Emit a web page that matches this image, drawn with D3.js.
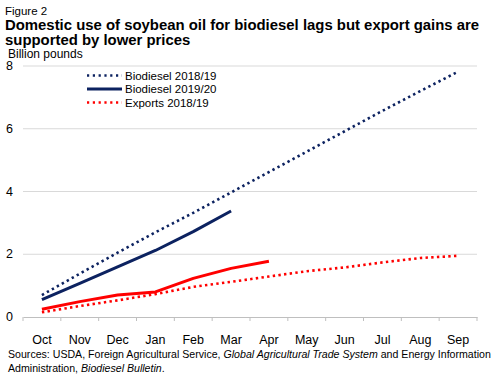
<!DOCTYPE html>
<html><head><meta charset="utf-8">
<script src="https://cdn.jsdelivr.net/npm/d3@7"></script>
<style>
html,body{margin:0;padding:0;background:#fff;}
svg{display:block;font-family:"Liberation Sans",Arial,sans-serif;}
</style></head>
<body>
<script>
const months = ["Oct","Nov","Dec","Jan","Feb","Mar","Apr","May","Jun","Jul","Aug","Sep"];
const biodiesel1819 = [0.70,1.38,2.05,2.70,3.32,3.97,4.62,5.27,5.92,6.57,7.20,7.82];
const biodiesel1920 = [0.55,1.07,1.60,2.12,2.72,3.38];
const exports1920 = [0.25,0.49,0.70,0.80,1.23,1.55,1.78];
const exports1819 = [0.15,0.35,0.53,0.73,0.96,1.12,1.29,1.46,1.58,1.74,1.88,1.95];
const yTicks = [0,2,4,6,8];
const legendLabels = ["Biodiesel 2018/19","Biodiesel 2019/20","Exports 2018/19"];

const W=500,H=378;
const svg=d3.select("body").append("svg").attr("width",W).attr("height",H);
const x=d3.scaleBand().domain(months).range([23,477]);
const y=d3.scaleLinear().domain([0,8]).range([317,66]);
const navy="#0c2260", red="#ff0000";

svg.append("text").attr("x",5).attr("y",14.5).attr("font-size",11.5).attr("fill","#000").text("Figure 2");
svg.append("text").attr("x",5).attr("y",29.5).attr("font-size",14.9).attr("font-weight","bold").attr("fill","#000")
  .text("Domestic use of soybean oil for biodiesel lags but export gains are");
svg.append("text").attr("x",5).attr("y",45).attr("font-size",14.9).attr("font-weight","bold").attr("fill","#000")
  .text("supported by lower prices");
svg.append("text").attr("x",8).attr("y",57.5).attr("font-size",12).attr("fill","#000").text("Billion pounds");

// grid
svg.append("g").selectAll("line").data(yTicks.filter(d=>d>0)).join("line")
  .attr("x1",23).attr("x2",477).attr("y1",d=>y(d)).attr("y2",d=>y(d))
  .attr("stroke","#d9d9d9").attr("stroke-width",1);
// y labels
svg.append("g").selectAll("text").data(yTicks).join("text")
  .attr("x",6).attr("y",d=>y(d)+4).attr("font-size",12.5).attr("fill","#000").text(d=>d);

// x axis
const xa=svg.append("g").attr("transform","translate(0,317)")
  .call(d3.axisBottom(x).tickSize(0).tickPadding(18));
xa.select(".domain").attr("stroke","#bfbfbf").attr("stroke-width",1.2);
xa.selectAll("text").attr("font-size",12.5).attr("fill","#000").attr("font-family","Liberation Sans, Arial, sans-serif");
const edges=months.map(m=>x(m)).concat([x.range()[1]]);
xa.selectAll(".edge").data(edges).join("line").attr("class","edge")
  .attr("x1",d=>d).attr("x2",d=>d).attr("y1",0).attr("y2",4).attr("stroke","#bfbfbf");

const line=d3.line().x((d,i)=>x(months[i])+x.bandwidth()/2).y(d=>y(d));
function draw(data,color,dotted){
  const p=svg.append("path").datum(data).attr("d",line).attr("fill","none").attr("stroke",color);
  if(dotted) p.attr("stroke-width",2.6).attr("stroke-dasharray","2.4,3.3");
  else p.attr("stroke-width",3).attr("stroke-linejoin","round");
}
draw(exports1819,red,true);
draw(biodiesel1819,navy,true);
draw(exports1920,red,false);
draw(biodiesel1920,navy,false);

// legend
const lg=[{c:navy,d:true},{c:navy,d:false},{c:red,d:true}];
lg.forEach((s,i)=>{
  const yy=[75.5,89,102.5][i];
  const l=svg.append("line").attr("x1",87).attr("x2",122).attr("y1",yy).attr("y2",yy).attr("stroke",s.c);
  if(s.d) l.attr("stroke-width",2.4).attr("stroke-dasharray","2.2,3.6");
  else l.attr("stroke-width",3);
  svg.append("text").attr("x",125).attr("y",yy+4).attr("font-size",11.5).attr("fill","#000").text(legendLabels[i]);
});

// source
const s1=svg.append("text").attr("x",8).attr("y",358).attr("font-size",10.6).attr("fill","#000");
s1.append("tspan").text("Sources: USDA, Foreign Agricultural Service, ");
s1.append("tspan").attr("font-style","italic").text("Global Agricultural Trade System");
s1.append("tspan").text(" and Energy Information");
const s2=svg.append("text").attr("x",8).attr("y",372).attr("font-size",10.6).attr("fill","#000");
s2.append("tspan").text("Administration, ");
s2.append("tspan").attr("font-style","italic").text("Biodiesel Bulletin");
s2.append("tspan").text(".");
</script>
</body></html>
